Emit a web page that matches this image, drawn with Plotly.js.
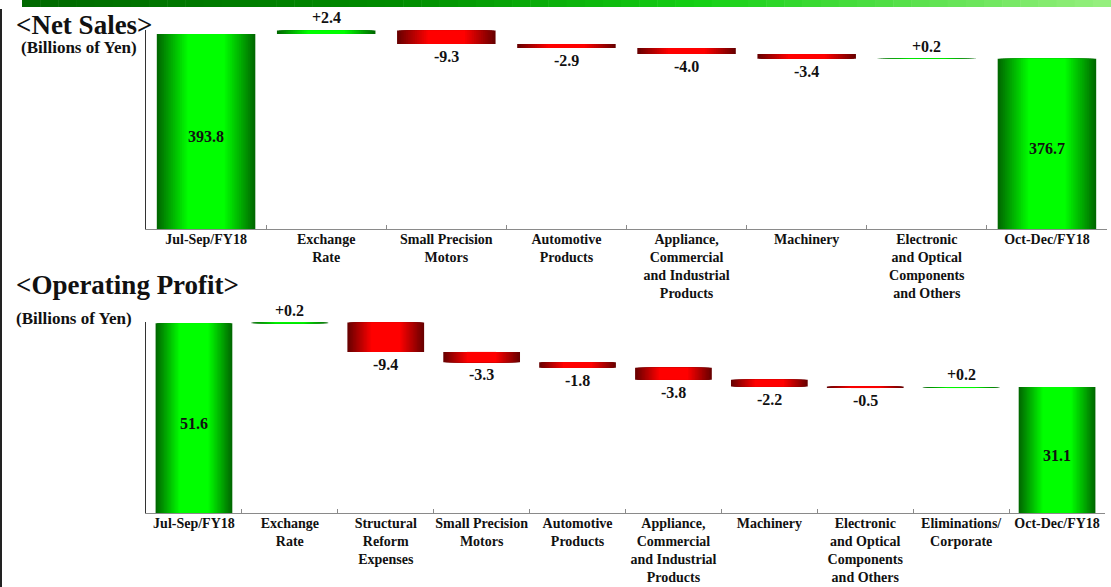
<!DOCTYPE html>
<html>
<head>
<meta charset="utf-8">
<script src="https://cdn.plot.ly/plotly-3.0.1.min.js"></script>
<style>html,body{margin:0;padding:0;background:#fff;}#chart{width:1111px;height:587px;}</style>
</head>
<body>
<div id="chart"></div>
<script>
// ---------- DATA ----------
const salesCategories = ["Jul-Sep/FY18", "Exchange<br>Rate", "Small Precision<br>Motors", "Automotive<br>Products",
  "Appliance,<br>Commercial<br>and Industrial<br>Products", "Machinery",
  "Electronic<br>and Optical<br>Components<br>and Others", "Oct-Dec/FY18"];
const salesStart = 393.8;
const salesChanges = [2.4, -9.3, -2.9, -4.0, -3.4, 0.2];
const salesEnd = 376.7;

const profitCategories = ["Jul-Sep/FY18", "Exchange<br>Rate", "Structural<br>Reform<br>Expenses", "Small Precision<br>Motors",
  "Automotive<br>Products", "Appliance,<br>Commercial<br>and Industrial<br>Products", "Machinery",
  "Electronic<br>and Optical<br>Components<br>and Others", "Eliminations/<br>Corporate", "Oct-Dec/FY18"];
const profitStart = 51.6;
const profitChanges = [0.2, -9.4, -3.3, -1.8, -3.8, -2.2, -0.5, 0.2];
const profitEnd = 31.1;

// ---------- STYLE ----------
const W = 1111, H = 587;
const FONT = "Liberation Serif";
const GREEN_EDGE = [0, 105, 0], GREEN_MID = [0, 255, 0];
const RED_EDGE = [105, 0, 0], RED_MID = [255, 0, 0];
const LAYERS = 18;

const salesRange = [259, 396.5];
const profitRange = [-9.3, 52];

function mix(a, b, t) {
  return "rgb(" + a.map((v, i) => Math.round(v + (b[i] - v) * t)).join(",") + ")";
}
function bold(s) {
  return s.split("<br>").map(l => "<b>" + l + "</b>").join("<br>");
}

function buildWaterfall(cats, start, changes, end, yMin) {
  const base = [], val = [], green = [], labels = [], kind = [];
  base.push(yMin); val.push(start - yMin); green.push(true); labels.push(start.toFixed(1)); kind.push("total");
  let run = start;
  changes.forEach(c => {
    base.push(run); val.push(c); green.push(c >= 0);
    labels.push((c >= 0 ? "+" : "") + c.toFixed(1)); kind.push(c >= 0 ? "up" : "down");
    run += c;
  });
  base.push(yMin); val.push(end - yMin); green.push(true); labels.push(end.toFixed(1)); kind.push("total");
  return {cats, base, val, green, labels, kind};
}

function barTraces(wf, xa, ya, barWidth) {
  const traces = [];
  for (let k = 0; k < LAYERS; k++) {
    const f = 1 - k * (0.62 / (LAYERS - 1));
    const d = (1 - f) / 2;
    const t = Math.min(1, d / 0.31);
    traces.push({
      type: "bar", x: wf.cats, y: wf.val, base: wf.base,
      width: barWidth * f, xaxis: xa, yaxis: ya,
      marker: {color: wf.green.map(g => g ? mix(GREEN_EDGE, GREEN_MID, t) : mix(RED_EDGE, RED_MID, t)), line: {width: 0}},
      hoverinfo: "skip", showlegend: false
    });
  }
  return traces;
}

function valueAnnotations(wf, xr, yr) {
  return wf.cats.map((c, i) => {
    const a = {x: c, xref: xr, yref: yr, text: "<b>" + wf.labels[i] + "</b>", showarrow: false,
      font: {family: FONT, size: 16, weight: 700, color: "#111"}};
    if (wf.kind[i] === "total") {
      a.y = wf.base[i] + wf.val[i] / 2; a.yanchor = "middle"; a.yshift = -5;
    } else if (wf.kind[i] === "up") {
      a.y = wf.base[i] + wf.val[i]; a.yanchor = "bottom"; a.yshift = 2;
    } else {
      a.y = wf.base[i] + wf.val[i]; a.yanchor = "top"; a.yshift = -2;
    }
    return a;
  });
}

const sales = buildWaterfall(salesCategories, salesStart, salesChanges, salesEnd, salesRange[0]);
const profit = buildWaterfall(profitCategories, profitStart, profitChanges, profitEnd, profitRange[0]);

const data = [].concat(barTraces(sales, "x", "y", 0.82), barTraces(profit, "x2", "y2", 0.80));

const px = v => v / W, py = v => 1 - v / H;

const xCommon = {
  type: "category", showline: true, linecolor: "#8a8a8a", linewidth: 1,
  ticks: "inside", tickson: "boundaries", ticklen: 4, tickcolor: "#8a8a8a", tickangle: 0,
  ticklabelstandoff: -3,
  tickfont: {family: FONT, size: 14, weight: 700, color: "#111"},
  showgrid: false, zeroline: false, fixedrange: true
};
const yCommon = {
  showline: true, linecolor: "#333", linewidth: 1.5, showticklabels: false, ticks: "",
  showgrid: false, zeroline: false, fixedrange: true
};

// header stripe gradient shapes
const shapes = [];
const stops = [[22, [0, 104, 0]], [400, [0, 140, 0]], [700, [20, 208, 20]], [1111, [152, 240, 128]]];
const N = 60;
for (let i = 0; i < N; i++) {
  const x0 = 22 + (1111 - 22) * i / N, x1 = 22 + (1111 - 22) * (i + 1) / N + 0.5;
  const xm = (x0 + x1) / 2;
  let s = 0;
  while (s < stops.length - 2 && xm > stops[s + 1][0]) s++;
  const t = Math.max(0, Math.min(1, (xm - stops[s][0]) / (stops[s + 1][0] - stops[s][0])));
  shapes.push({type: "rect", xref: "paper", yref: "paper", x0: px(x0), x1: px(Math.min(1111, x1)), y0: py(7), y1: py(0),
    fillcolor: mix(stops[s][1], stops[s + 1][1], t), line: {width: 0}, layer: "above"});
}
shapes.push({type: "line", xref: "paper", yref: "paper", x0: px(1), x1: px(1), y0: py(9), y1: py(587),
  line: {color: "#222", width: 2}});

const titleFont = {family: FONT, size: 27, weight: 700, color: "#111"};
const unitFont = {family: FONT, size: 17, weight: 700, color: "#111"};
const annotations = [
  {xref: "paper", yref: "paper", x: px(14), y: py(25), xanchor: "left", yanchor: "middle", showarrow: false,
    text: "<b>&lt;Net Sales&gt;</b>", font: titleFont},
  {xref: "paper", yref: "paper", x: px(19), y: py(48), xanchor: "left", yanchor: "middle", showarrow: false,
    text: "<b>(Billions of Yen)</b>", font: unitFont},
  {xref: "paper", yref: "paper", x: px(14), y: py(285), xanchor: "left", yanchor: "middle", showarrow: false,
    text: "<b>&lt;Operating Profit&gt;</b>", font: titleFont},
  {xref: "paper", yref: "paper", x: px(14), y: py(318), xanchor: "left", yanchor: "middle", showarrow: false,
    text: "<b>(Billions of Yen)</b>", font: unitFont}
].concat(valueAnnotations(sales, "x", "y"), valueAnnotations(profit, "x2", "y2"));

const layout = {
  width: W, height: H, margin: {l: 0, r: 0, t: 0, b: 0},
  paper_bgcolor: "#fff", plot_bgcolor: "#fff",
  barmode: "overlay", showlegend: false,
  font: {family: FONT, color: "#111"},
  xaxis: Object.assign({}, xCommon, {domain: [px(146), px(1107)], anchor: "y", range: [-0.5, 7.5],
    tickvals: salesCategories, ticktext: salesCategories.map(bold)}),
  yaxis: Object.assign({}, yCommon, {domain: [py(229), py(30)], anchor: "x", range: salesRange}),
  xaxis2: Object.assign({}, xCommon, {domain: [px(146), px(1105)], anchor: "y2", range: [-0.5, 9.5],
    tickvals: profitCategories, ticktext: profitCategories.map(bold)}),
  yaxis2: Object.assign({}, yCommon, {domain: [py(513), py(322)], anchor: "x2", range: profitRange}),
  shapes, annotations
};

Plotly.newPlot("chart", data, layout, {displayModeBar: false, staticPlot: true});
</script>
</body>
</html>
